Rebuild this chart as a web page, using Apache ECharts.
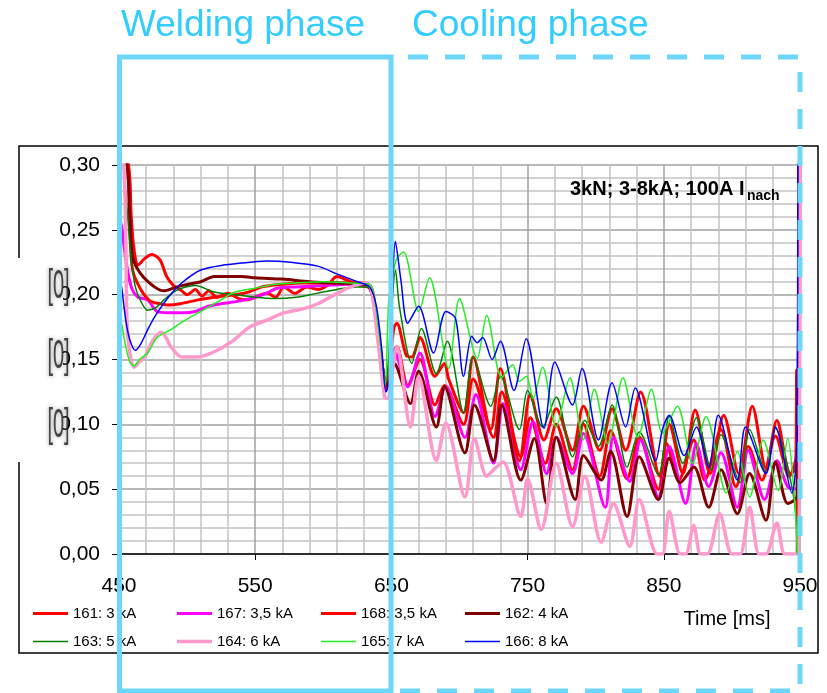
<!DOCTYPE html>
<html>
<head>
<meta charset="utf-8">
<script src="https://cdn.jsdelivr.net/npm/echarts@6/dist/echarts.min.js"></script>
<style>
html, body { margin: 0; padding: 0; background: #fff; }
#chart { width: 827px; height: 693px; }
</style>
</head>
<body>
<div id="chart"></div>
<script>
// values: [time ms, value]
const s161 = [[450,0.32],[457,0.30],[459,0.26],[461,0.235],[464,0.223],[469,0.228],[474,0.231],[480,0.227],[485,0.214],[490,0.207],[496,0.203],[500,0.200],[506,0.204],[511,0.199],[516,0.203],[522,0.198],[530,0.201],[538,0.197],[544,0.196],[552,0.199],[559,0.201],[565,0.198],[571,0.206],[579,0.201],[588,0.206],[596,0.204],[603,0.207],[610,0.214],[618,0.211],[628,0.207],[634,0.205],[638,0.19],[641,0.165],[644,0.14],[646,0.13],[648,0.138],
  [651,0.155],[654,0.16],[662,0.13],[671,0.15],[682,0.115],[689,0.13],[703,0.10],[710,0.135],[725,0.09],[731,0.125],[745,0.075],[752,0.105],[763,0.07],[771,0.10],[783,0.065],[791,0.10],[803,0.06],[811,0.095],[823,0.058],[832,0.09],[846,0.05],[852,0.085],[861,0.057],[872,0.088],[880,0.057],[892,0.096],[903,0.052],[912,0.083],[922,0.057],[932,0.091],[942,0.06],[947,0.075],[947.5,0.142],[948,0.0]];
const s167 = [[450,0.26],[452,0.252],[455,0.227],[459,0.206],[464,0.198],[471,0.196],[478,0.187],[486,0.186],[496,0.186],[506,0.187],[515,0.191],[525,0.193],[538,0.195],[550,0.198],[560,0.202],[566,0.205],[580,0.206],[600,0.207],[620,0.208],[634,0.207],[638,0.19],[641,0.165],[644,0.14],[646,0.126],[649,0.14],
  [652,0.157],[662,0.129],[671,0.155],[682,0.106],[690,0.129],[704,0.09],[712,0.123],[725,0.07],[732,0.116],[745,0.065],[754,0.102],[764,0.062],[771,0.09],[783,0.062],[791,0.093],[807,0.036],[813,0.09],[825,0.056],[833,0.088],[846,0.044],[854,0.083],[866,0.039],[874,0.085],[883,0.052],[892,0.078],[904,0.036],[912,0.08],[924,0.042],[933,0.072],[941,0.052],[948,0.05],[949.5,0.32]];
const s168 = [[450,0.32],[456,0.30],[458,0.25],[460,0.219],[466,0.204],[473,0.195],[480,0.193],[486,0.192],[495,0.193],[508,0.196],[520,0.198],[535,0.200],[545,0.202],[555,0.206],[570,0.208],[585,0.209],[600,0.209],[615,0.209],[630,0.209],[634,0.207],[638,0.19],[641,0.165],[644,0.14],[646,0.128],[649,0.15],
  [652,0.175],[654,0.178],[661,0.153],[665,0.152],[671,0.167],[682,0.137],[689,0.147],[692,0.135],[703,0.109],[710,0.152],[723,0.096],[730,0.143],[744,0.072],[752,0.123],[762,0.088],[771,0.112],[783,0.08],[791,0.114],[803,0.08],[812,0.112],[822,0.08],[833,0.125],[847,0.06],[854,0.10],[864,0.062],[873,0.111],[884,0.062],[894,0.107],[905,0.062],[915,0.114],[925,0.066],[933,0.103],[943,0.062],[949,0.07],[950,0.32]];
const s162 = [[450,0.32],[456,0.30],[458,0.26],[460,0.229],[466,0.216],[476,0.206],[483,0.203],[490,0.205],[496,0.207],[510,0.210],[520,0.214],[540,0.214],[550,0.213],[570,0.212],[590,0.210],[610,0.209],[630,0.208],[634,0.206],[638,0.19],[641,0.165],[644,0.14],[646,0.13],[649,0.135],
  [652,0.147],[664,0.116],[670,0.141],[683,0.098],[689,0.129],[704,0.078],[711,0.115],[725,0.072],[731,0.115],[745,0.057],[755,0.089],[764,0.039],[771,0.09],[785,0.042],[791,0.076],[804,0.057],[811,0.079],[823,0.029],[832,0.075],[846,0.042],[854,0.074],[862,0.055],[872,0.067],[883,0.036],[892,0.065],[904,0.031],[913,0.062],[925,0.026],[932,0.071],[941,0.039],[948,0.045],[949,0.32]];
const s163 = [[450,0.32],[453,0.30],[456,0.265],[459,0.227],[462,0.206],[466,0.195],[471,0.188],[477,0.19],[483,0.196],[490,0.202],[496,0.205],[506,0.207],[520,0.202],[535,0.200],[550,0.198],[565,0.197],[580,0.198],[595,0.201],[610,0.204],[625,0.206],[634,0.206],[638,0.19],[641,0.165],[644,0.14],[646,0.132],[649,0.17],
  [653,0.219],[656,0.19],[665,0.147],[672,0.174],[683,0.139],[691,0.164],[703,0.109],[710,0.152],[723,0.114],[730,0.137],[744,0.096],[750,0.126],[761,0.098],[771,0.121],[783,0.075],[792,0.103],[802,0.083],[812,0.115],[823,0.067],[832,0.094],[846,0.061],[854,0.106],[864,0.07],[874,0.105],[885,0.065],[892,0.092],[906,0.055],[913,0.096],[925,0.063],[932,0.097],[943,0.057],[947,0.03],[948,0.0]];
const s164 = [[450,0.32],[453.5,0.30],[455,0.24],[456,0.175],[458,0.155],[461,0.144],[465,0.148],[469,0.152],[475,0.165],[481,0.171],[485,0.166],[488,0.16],[496,0.152],[508,0.152],[520,0.156],[533,0.164],[546,0.175],[560,0.181],[571,0.186],[585,0.189],[596,0.193],[610,0.201],[620,0.206],[631,0.209],[635,0.205],[640,0.165],[645,0.121],[647,0.12],
  [654,0.16],[664,0.098],[670,0.137],[683,0.072],[690,0.101],[704,0.044],[711,0.089],[720,0.06],[725,0.065],[732,0.071],[745,0.029],[750,0.058],[760,0.019],[771,0.070],[783,0.021],[792,0.06],[804,0.009],[813,0.039],[825,0.006],[832,0.042],[845,0.0],[849,0.0],[854,0.033],[862,0.0],[866,0.0],[872,0.022],[877,0.0],[882,0.0],[891,0.031],[900,0.0],[906,0.0],[913,0.036],[920,0.0],[925,0.0],[933,0.024],[939,0.0],[949,0.0],[950,0.32]];
const s165 = [[450,0.19],[451,0.183],[455,0.16],[458,0.148],[461,0.145],[465,0.15],[471,0.155],[478,0.167],[488,0.173],[498,0.180],[510,0.187],[525,0.196],[535,0.202],[550,0.205],[565,0.208],[580,0.209],[600,0.210],[620,0.209],[634,0.208],[640,0.178],[644,0.142],[645.5,0.13],[648,0.194],[651,0.215],
  [654,0.228],[659,0.233],[670,0.187],[678,0.213],[692,0.143],[700,0.197],[713,0.151],[720,0.184],[731,0.136],[739,0.146],[744,0.133],[749,0.137],[754,0.12],[761,0.144],[771,0.098],[781,0.136],[791,0.088],[799,0.127],[809,0.085],[820,0.136],[831,0.09],[841,0.127],[849,0.093],[860,0.114],[871,0.07],[881,0.106],[896,0.047],[904,0.079],[913,0.044],[923,0.088],[934,0.049],[941,0.089],[946,0.042],[948,0.0]];
const s166 = [[450,0.215],[452,0.205],[455,0.18],[458,0.165],[462,0.157],[466,0.162],[472,0.175],[478,0.186],[487,0.199],[496,0.209],[510,0.219],[528,0.223],[546,0.225],[559,0.226],[576,0.225],[596,0.222],[610,0.216],[625,0.210],[634,0.206],[639,0.191],[643,0.157],[646,0.125],[648.5,0.134],[653,0.241],
  [657,0.211],[662,0.178],[670,0.191],[681,0.155],[690,0.187],[697,0.182],[703,0.137],[709,0.168],[713,0.163],[717,0.167],[724,0.150],[730,0.164],[740,0.126],[749,0.166],[762,0.097],[770,0.148],[783,0.115],[790,0.143],[802,0.088],[812,0.132],[822,0.098],[829,0.128],[844,0.072],[849,0.096],[854,0.107],[865,0.076],[874,0.098],[883,0.067],[890,0.107],[904,0.057],[910,0.098],[925,0.062],[932,0.098],[944,0.047],[948,0.10],[948.5,0.32]];

const names = ['161: 3 kA', '167: 3,5 kA', '168: 3,5 kA', '162: 4 kA', '163: 5 kA', '164: 6 kA', '165: 7 kA', '166: 8 kA'];
const seriesData = [s161, s167, s168, s162, s163, s164, s165, s166];
const colors = ['#ff0000', '#ff00ff', '#ff0000', '#800000', '#008000', '#ff99cc', '#22ee22', '#0000ff'];
const widths = [3, 3, 3, 3, 1.5, 3.5, 1.5, 1.5];

const font = 'Liberation Sans, Arial, sans-serif';
const cyan = '#6dd6fa';

const chart = echarts.init(document.getElementById('chart'));

// one legend per entry so the 4 columns line up like in the picture
const legendCols = [33, 177, 321, 465];
const legendRows = [606, 634];
const legends = names.map((n, i) => ({
  orient: 'horizontal',
  left: legendCols[i % 4],
  top: legendRows[Math.floor(i / 4)],
  padding: 0,
  itemWidth: 35,
  itemHeight: 14,
  selectedMode: false,
  textStyle: { fontFamily: font, fontSize: 15, color: '#000' },
  // plain bar as thick as the line
  data: [{ name: n, icon: 'path://M0,0h35v' + widths[i] + 'h-35z' }]
}));

const option = {
  animation: false,
  backgroundColor: '#fff',
  grid: { left: 119, right: 27, top: 165, bottom: 139 },
  legend: legends,
  xAxis: {
    type: 'value', min: 450, max: 950, interval: 100,
    axisLine: { show: true, onZero: false, lineStyle: { color: '#000', width: 1.5 } },
    axisTick: { show: true, length: 6, lineStyle: { color: '#000' } },
    axisLabel: { fontFamily: font, fontSize: 21, color: '#000', margin: 22 },
    splitLine: { show: true, lineStyle: { color: '#a0a0a0', width: 1.5 } },
    minorTick: { show: false, splitNumber: 5 },
    minorSplitLine: { show: true, lineStyle: { color: '#c4c4c4', width: 1.5 } }
  },
  yAxis: {
    type: 'value', min: 0, max: 0.30, interval: 0.05,
    axisLine: { show: true, lineStyle: { color: '#000', width: 1.5 } },
    axisTick: { show: true, length: 7, lineStyle: { color: '#000' } },
    axisLabel: {
      fontFamily: font, fontSize: 21, color: '#000', margin: 19,
      formatter: v => v.toFixed(2).replace('.', ',')
    },
    splitLine: { show: true, lineStyle: { color: '#a0a0a0', width: 1.5 } },
    minorTick: { show: false, splitNumber: 5 },
    minorSplitLine: { show: true, lineStyle: { color: '#c4c4c4', width: 1.5 } }
  },
  series: seriesData.map((d, i) => ({
    name: names[i],
    type: 'line',
    data: d,
    symbol: 'none',
    showSymbol: false,
    smooth: 0.3,
    clip: true,
    lineStyle: { color: colors[i], width: widths[i] },
    itemStyle: { color: colors[i] }
  })),
  graphic: [
    // outer frame, left side broken where the axis title was blanked
    { type: 'polyline', z: 1, shape: { points: [[19, 258], [19, 146], [818, 146], [818, 653], [19, 653], [19, 462]] },
      style: { stroke: '#000', lineWidth: 1.5, fill: null } },
    { type: 'rect', z: 50, shape: { x: 10, y: 258, width: 53, height: 197 }, style: { fill: '#fff' } },
    { type: 'text', z: 51, x: 39, y: 287, scaleX: 0.5, originX: 39, originY: 287,
      style: { text: '[0]', font: '40px ' + font, fill: 'rgba(30,30,30,0.8)', align: 'center', verticalAlign: 'middle', textShadowBlur: 4, textShadowColor: 'rgba(0,0,0,0.5)' } },
    { type: 'text', z: 51, x: 39, y: 357, scaleX: 0.5, originX: 39, originY: 357,
      style: { text: '[0]', font: '40px ' + font, fill: 'rgba(30,30,30,0.8)', align: 'center', verticalAlign: 'middle', textShadowBlur: 4, textShadowColor: 'rgba(0,0,0,0.5)' } },
    { type: 'text', z: 51, x: 39, y: 426, scaleX: 0.5, originX: 39, originY: 426,
      style: { text: '[0]', font: '40px ' + font, fill: 'rgba(30,30,30,0.8)', align: 'center', verticalAlign: 'middle', textShadowBlur: 4, textShadowColor: 'rgba(0,0,0,0.5)' } },
    { type: 'text', z: 60, x: 570, y: 189,
      style: { text: '3kN; 3-8kA; 100A I', font: 'bold 20px ' + font, fill: '#000', verticalAlign: 'middle' } },
    { type: 'text', z: 60, x: 747, y: 196,
      style: { text: 'nach', font: 'bold 14px ' + font, fill: '#000', verticalAlign: 'middle' } },
    { type: 'text', z: 60, x: 727, y: 619,
      style: { text: 'Time [ms]', font: '20px ' + font, fill: '#000', align: 'center', verticalAlign: 'middle' } },
    // phase boxes
    { type: 'rect', z: 100, shape: { x: 119.5, y: 57, width: 271.5, height: 634 },
      style: { fill: null, stroke: cyan, lineWidth: 5 } },
    { type: 'polyline', z: 100, shape: { points: [[408, 57], [800, 57], [800, 691], [391, 691]] },
      style: { fill: null, stroke: cyan, lineWidth: 5, lineDash: [20, 17] } },
    { type: 'text', z: 100, x: 121, y: 26,
      style: { text: 'Welding phase', font: '37px ' + font, fill: '#33ccff', verticalAlign: 'middle' } },
    { type: 'text', z: 100, x: 412, y: 26,
      style: { text: 'Cooling phase', font: '37px ' + font, fill: '#33ccff', verticalAlign: 'middle' } }
  ]
};

chart.setOption(option);
</script>
</body>
</html>
